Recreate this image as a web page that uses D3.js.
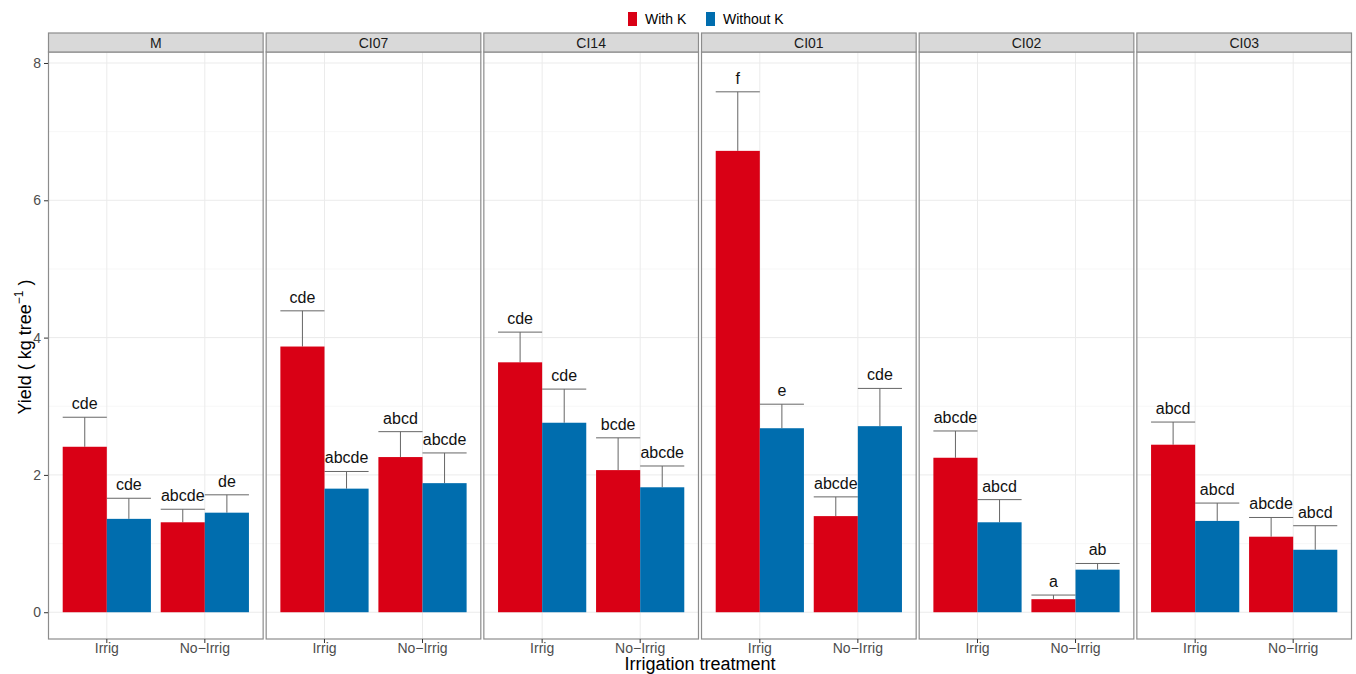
<!DOCTYPE html>
<html>
<head>
<meta charset="utf-8">
<script src="https://cdn.jsdelivr.net/npm/d3@7"></script>
<style>
  body { margin: 0; background: #fff; }
  svg { font-family: "Liberation Sans", Arial, sans-serif; }
</style>
</head>
<body>
<div id="chart"></div>
<script>
// data (mean yield, standard error, letter groups)
var genotypes = ['M', 'CI07', 'CI14', 'CI01', 'CI02', 'CI03'];
var irrigation = ['Irrig', 'No-Irrig'];
var treatments = ['With K', 'Without K'];
var colors = ['#D90015', '#006DAE'];

// each row is one genotype: [Irrig, No-Irrig]
var withKMean = [[2.41, 1.31], [3.87, 2.26], [3.64, 2.07], [6.72, 1.40], [2.25, 0.19], [2.44, 1.10]];
var withKSe = [[0.43, 0.19], [0.52, 0.37], [0.44, 0.47], [0.86, 0.28], [0.39, 0.06], [0.33, 0.28]];
var withKLetters = [['cde', 'abcde'], ['cde', 'abcd'], ['cde', 'bcde'], ['f', 'abcde'], ['abcde', 'a'], ['abcd', 'abcde']];

var withoutKMean = [[1.36, 1.45], [1.80, 1.88], [2.76, 1.82], [2.68, 2.71], [1.31, 0.62], [1.33, 0.91]];
var withoutKSe = [[0.30, 0.26], [0.25, 0.44], [0.49, 0.31], [0.35, 0.55], [0.33, 0.09], [0.26, 0.35]];
var withoutKLetters = [['cde', 'de'], ['abcde', 'abcde'], ['cde', 'abcde'], ['e', 'cde'], ['abcd', 'ab'], ['abcd', 'abcd']];

var yTicks = [0, 2, 4, 6, 8];
var yMinor = [1, 3, 5, 7];

// build a flat table from the arrays
var rows = [];
genotypes.forEach(function(g, gi) {
    irrigation.forEach(function(ir, ii) {
        rows.push({ g: g, irr: ir, trt: treatments[0], mean: withKMean[gi][ii], se: withKSe[gi][ii], lab: withKLetters[gi][ii] });
        rows.push({ g: g, irr: ir, trt: treatments[1], mean: withoutKMean[gi][ii], se: withoutKSe[gi][ii], lab: withoutKLetters[gi][ii] });
    });
});

var W = 1356, H = 674;
var pLeft = 48, pRight = 1352, pTop = 52, pBottom = 639, stripH = 19;

var svg = d3.select('#chart').append('svg')
    .attr('width', W)
    .attr('height', H);

// panels
var panelX = d3.scaleBand()
    .domain(genotypes)
    .range([pLeft, pRight])
    .paddingInner(0.0093);

var pw = panelX.bandwidth();

var y = d3.scaleLinear()
    .domain([-0.39, 8.16])
    .range([pBottom, pTop]);

var x = d3.scaleBand()
    .domain(irrigation)
    .range([0, pw])
    .paddingInner(0.1)
    .paddingOuter(0.15);

var xt = d3.scaleBand()
    .domain(treatments)
    .range([0, x.bandwidth()]);

var color = d3.scaleOrdinal().domain(treatments).range(colors);

var panels = svg.selectAll('g.panel')
    .data(genotypes)
    .enter().append('g')
    .attr('class', 'panel')
    .attr('transform', function(d) { return 'translate(' + panelX(d) + ',0)'; });

panels.each(function(g) {
    var p = d3.select(this);

    // grid
    p.selectAll('line.minor').data(yMinor).enter().append('line')
        .attr('x1', 0).attr('x2', pw)
        .attr('y1', function(d) { return y(d); }).attr('y2', function(d) { return y(d); })
        .attr('stroke', '#f2f2f2').attr('stroke-width', 0.6);
    p.selectAll('line.major').data(yTicks).enter().append('line')
        .attr('x1', 0).attr('x2', pw)
        .attr('y1', function(d) { return y(d); }).attr('y2', function(d) { return y(d); })
        .attr('stroke', '#ebebeb').attr('stroke-width', 1);
    p.selectAll('line.vx').data(irrigation).enter().append('line')
        .attr('x1', function(d) { return x(d) + x.bandwidth() / 2; })
        .attr('x2', function(d) { return x(d) + x.bandwidth() / 2; })
        .attr('y1', pTop).attr('y2', pBottom)
        .attr('stroke', '#ebebeb').attr('stroke-width', 1);

    var data = rows.filter(function(r) { return r.g === g; });

    // error bars (mean to mean + se)
    var eb = p.selectAll('g.eb').data(data).enter().append('g')
        .attr('stroke', '#666').attr('stroke-width', 1);
    eb.append('line')
        .attr('x1', function(d) { return x(d.irr) + xt(d.trt) + xt.bandwidth() / 2; })
        .attr('x2', function(d) { return x(d.irr) + xt(d.trt) + xt.bandwidth() / 2; })
        .attr('y1', function(d) { return y(d.mean); })
        .attr('y2', function(d) { return y(d.mean + d.se); });
    eb.append('line')
        .attr('x1', function(d) { return x(d.irr) + xt(d.trt); })
        .attr('x2', function(d) { return x(d.irr) + xt(d.trt) + xt.bandwidth(); })
        .attr('y1', function(d) { return y(d.mean + d.se); })
        .attr('y2', function(d) { return y(d.mean + d.se); });

    // bars
    p.selectAll('rect.bar').data(data).enter().append('rect')
        .attr('x', function(d) { return x(d.irr) + xt(d.trt); })
        .attr('width', xt.bandwidth())
        .attr('y', function(d) { return y(d.mean); })
        .attr('height', function(d) { return y(0) - y(d.mean); })
        .attr('fill', function(d) { return color(d.trt); });

    // letters
    p.selectAll('text.lab').data(data).enter().append('text')
        .attr('x', function(d) { return x(d.irr) + xt(d.trt) + xt.bandwidth() / 2; })
        .attr('y', function(d) { return y(d.mean + d.se) - 8; })
        .attr('text-anchor', 'middle')
        .attr('font-size', '16px')
        .attr('fill', '#111')
        .text(function(d) { return d.lab; });

    // panel border
    p.append('rect')
        .attr('x', 0.5).attr('y', pTop)
        .attr('width', pw - 1).attr('height', pBottom - pTop)
        .attr('fill', 'none').attr('stroke', '#8c8c8c').attr('stroke-width', 1.2);

    // strip
    p.append('rect')
        .attr('x', 0.5).attr('y', pTop - stripH)
        .attr('width', pw - 1).attr('height', stripH)
        .attr('fill', '#d9d9d9').attr('stroke', '#8c8c8c').attr('stroke-width', 1.2);
    p.append('text')
        .attr('x', pw / 2).attr('y', pTop - 4.5)
        .attr('text-anchor', 'middle')
        .attr('font-size', '14px')
        .attr('fill', '#1a1a1a')
        .text(g);

    // x axis
    var ax = p.append('g')
        .attr('transform', 'translate(0,' + pBottom + ')')
        .call(d3.axisBottom(x).tickSize(4).tickPadding(0));
    ax.select('.domain').remove();
    ax.selectAll('line').attr('stroke', '#333');
    ax.selectAll('text').attr('font-size', '14px').attr('fill', '#4d4d4d')
        .attr('font-family', '"Liberation Sans", Arial, sans-serif')
        .text(function(d) { return d.replace('-', '\u2212'); });
});

// y axis
var ay = svg.append('g')
    .attr('transform', 'translate(' + pLeft + ',0)')
    .call(d3.axisLeft(y).tickValues(yTicks).tickSize(4).tickPadding(3));
ay.select('.domain').remove();
ay.selectAll('line').attr('stroke', '#333');
ay.selectAll('text').attr('font-size', '14px').attr('fill', '#4d4d4d')
    .attr('font-family', '"Liberation Sans", Arial, sans-serif');

// axis titles
var yt = svg.append('text')
    .attr('transform', 'translate(31,347) rotate(-90)')
    .attr('text-anchor', 'middle')
    .attr('font-size', '18px')
    .attr('fill', '#000');
yt.append('tspan').text('Yield ( kg tree');
yt.append('tspan').attr('dy', -8).attr('font-size', '12px').text('\u22121');
yt.append('tspan').attr('dy', 8).text(' )');

svg.append('text')
    .attr('x', (pLeft + pRight) / 2)
    .attr('y', 670)
    .attr('text-anchor', 'middle')
    .attr('font-size', '18px')
    .attr('fill', '#000')
    .text('Irrigation treatment');

// legend
var legend = svg.append('g').attr('transform', 'translate(628,0)');
var lx = [0, 78];
treatments.forEach(function(t, i) {
    legend.append('rect')
        .attr('x', lx[i]).attr('y', 12)
        .attr('width', 9).attr('height', 14)
        .attr('fill', color(t));
    legend.append('text')
        .attr('x', lx[i] + 17).attr('y', 24)
        .attr('font-size', '14px')
        .attr('fill', '#000')
        .text(t);
});
</script>
</body>
</html>
